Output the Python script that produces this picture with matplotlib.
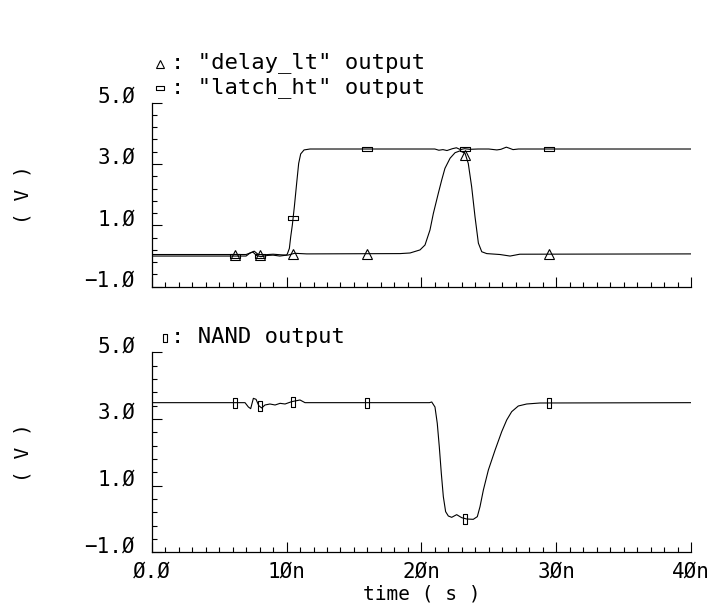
import numpy as np
import matplotlib
matplotlib.use("Agg")
import matplotlib.pyplot as plt
from matplotlib.lines import Line2D
from matplotlib.ticker import FixedLocator, MultipleLocator, FuncFormatter

# time in ns, voltage in V
latch_t = [0.0, 7.0, 7.3, 7.5, 7.8, 8.1, 8.6, 9.0, 9.5, 10.0, 10.06, 10.21, 10.31,
           10.43, 10.58, 10.75, 10.9, 11.05, 11.3, 11.74, 14.0, 21.0, 21.3, 21.6,
           21.9, 22.3, 22.6, 22.9, 23.2, 23.6, 24.2, 25.0, 25.6, 25.9, 26.3, 26.5,
           26.8, 27.2, 40.0]
latch_v = [0.0, 0.0, 0.1, 0.13, 0.01, -0.02, 0.02, 0.03, 0.0, 0.03, 0.07, 0.25, 0.63,
           1.01, 1.61, 2.37, 3.02, 3.33, 3.46, 3.49, 3.49, 3.49, 3.45, 3.47,
           3.44, 3.5, 3.53, 3.47, 3.5, 3.48, 3.49, 3.49, 3.46, 3.48, 3.55, 3.52,
           3.47, 3.49, 3.49]

delay_t = [0.0, 7.0, 7.3, 7.6, 7.9, 8.3, 9.0, 9.6, 10.1, 10.6, 11.5, 18.42, 19.16,
           19.9, 20.27, 20.64, 20.89, 21.26, 21.51, 21.75, 22.13, 22.5, 22.87,
           23.24, 23.48, 23.73, 23.98, 24.23, 24.48, 24.85, 25.83, 26.58, 27.3, 40.0]
delay_v = [0.05, 0.05, 0.1, 0.16, 0.05, 0.04, 0.06, 0.04, 0.03, 0.09, 0.07, 0.08, 0.1,
           0.2, 0.36, 0.85, 1.39, 2.05, 2.48, 2.86, 3.19, 3.37, 3.43,
           3.35, 3.02, 2.26, 1.28, 0.42, 0.14, 0.08, 0.05, 0.0, 0.06, 0.07]

nand_t = [0.0, 6.92, 7.17, 7.34, 7.54, 7.74, 7.94, 8.16, 8.4, 8.77, 9.15, 9.52, 9.89,
          10.38, 11.0, 11.37, 20.6, 20.77, 21.01, 21.18, 21.33, 21.48, 21.63, 21.8,
          22.0, 22.25, 22.62, 22.99, 23.36, 23.85, 24.15, 24.35, 24.6, 24.97, 25.47,
          25.96, 26.33, 26.7, 27.19, 27.81, 28.8, 40.0]
nand_v = [3.49, 3.49, 3.36, 3.31, 3.62, 3.59, 3.4, 3.33, 3.42, 3.45, 3.42, 3.47, 3.45,
          3.52, 3.57, 3.49, 3.49, 3.51, 3.36, 2.87, 2.17, 1.37, 0.67, 0.22,
          0.09, 0.05, 0.13, 0.04, 0.0, -0.01, 0.07, 0.37, 0.87, 1.47, 2.07,
          2.62, 2.97, 3.22, 3.39, 3.45, 3.48, 3.49]

# marker positions of each trace
mark_t = [6.2, 8.0, 10.5, 16.0, 23.2, 29.5]
delay_mark_v = [0.05, 0.05, 0.07, 0.08, 3.3, 0.07]
latch_mark_v = [0.0, 0.0, 1.25, 3.49, 3.49, 3.49]
nand_mark_v = [3.49, 3.38, 3.5, 3.49, 0.0, 3.49]

y_major = [-1.0, 1.0, 3.0, 5.0]
x_major = [0, 10, 20, 30, 40]

FONT = "DejaVu Sans Mono"
plt.rcParams["font.family"] = FONT
plt.rcParams["ytick.alignment"] = "baseline"

hrect = [(-1, -0.42), (1, -0.42), (1, 0.42), (-1, 0.42), (-1, -0.42)]
vrect = [(-0.42, -1), (0.42, -1), (0.42, 1), (-0.42, 1), (-0.42, -1)]


def slashed(s):
    return s.replace("0", "\u00d8").replace("-", "\u2212")


def style_axes(ax, show_xlabels):
    for side in ("top", "right"):
        ax.spines[side].set_visible(False)
    for side in ("left", "bottom"):
        ax.spines[side].set_linewidth(0.9)
    ax.set_xlim(0, 40)
    ax.set_ylim(-1.0, 5.0)
    ax.yaxis.set_major_locator(FixedLocator(y_major))
    ax.yaxis.set_minor_locator(FixedLocator(np.arange(-1.0, 5.01, 0.4)))
    ax.xaxis.set_major_locator(FixedLocator(x_major))
    ax.xaxis.set_minor_locator(MultipleLocator(1))
    ax.yaxis.set_major_formatter(FuncFormatter(lambda v, p: slashed(f"{v:.1f}")))
    ax.xaxis.set_major_formatter(
        FuncFormatter(lambda v, p: slashed("0.0" if v == 0 else f"{v:.0f}n")))
    ax.tick_params(which="both", direction="in", width=0.8, labelsize=15)
    ax.tick_params(which="major", length=7)
    ax.tick_params(which="minor", length=3.5)
    ax.tick_params(axis="y", pad=12)
    ax.tick_params(axis="x", pad=7, labelbottom=show_xlabels)
    ax.set_ylabel("( V )", fontsize=14)
    ax.yaxis.label.set_va("center")
    ax.yaxis.set_label_coords(-0.239, 0.5)


fig = plt.figure(figsize=(7.18, 6.12), dpi=100)
ax1 = fig.add_axes([0.2113, 0.5315, 0.7511, 0.3007])
ax2 = fig.add_axes([0.2113, 0.0975, 0.7511, 0.3268])

line_kw = dict(color="black", lw=0.8)
mark_kw = dict(ls="none", color="black", mfc="none", mew=0.8)

ax1.plot(latch_t, latch_v, **line_kw)
ax1.plot(delay_t, delay_v, **line_kw)
ax1.plot(mark_t, delay_mark_v, marker="^", ms=7, **mark_kw)
ax1.plot(mark_t, latch_mark_v, marker=hrect, ms=7, **mark_kw)
style_axes(ax1, False)

ax2.plot(nand_t, nand_v, **line_kw)
ax2.plot(mark_t, nand_mark_v, marker=vrect, ms=7, **mark_kw)
style_axes(ax2, True)
ax2.set_xlabel("time ( s )", fontsize=14, va="baseline")
ax2.xaxis.set_label_coords(0.5, -0.238)

# legend-style captions above each panel (pixel positions of the screenshot)
W, H = 718.0, 612.0
captions = [
    (160, 64, 171, 68, "^", ': "delay_lt" output'),
    (160, 88, 171, 93, hrect, ': "latch_ht" output'),
    (165, 338, 171, 343, vrect, ": NAND output"),
]
for mx, my, tx, ty, mk, label in captions:
    fig.add_artist(Line2D([mx / W], [1 - my / H], transform=fig.transFigure,
                          marker=mk, ms=5.5, color="black", mfc="none", mew=0.8))
    fig.text(tx / W, 1 - ty / H, label, fontsize=16, va="baseline", ha="left")

fig.savefig("out.png", dpi=100)
